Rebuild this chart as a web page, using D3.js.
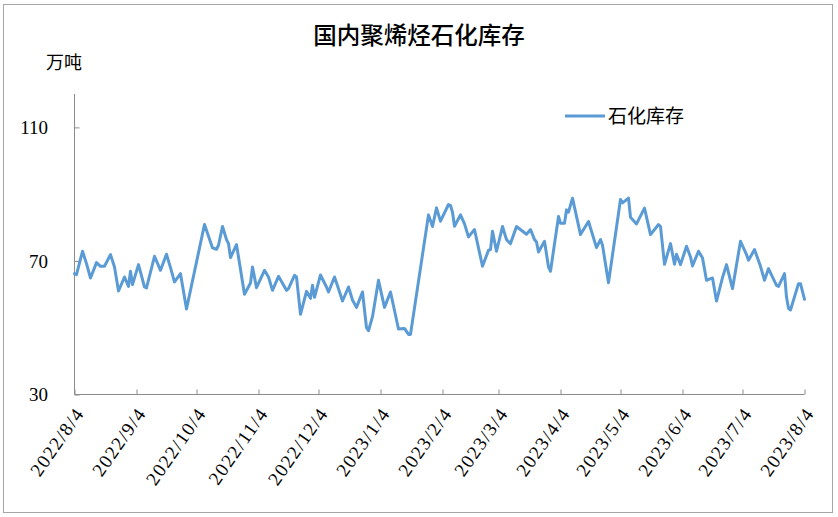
<!DOCTYPE html>
<html>
<head>
<meta charset="utf-8">
<script src="https://cdn.jsdelivr.net/npm/d3@7"></script>
<style>
  body { margin: 0; background: #fff; }
  svg { display: block; }
</style>
</head>
<body>
<svg width="838" height="517"></svg>
<script>
// readings of PE+PP inventory held by the two majors, every few days
var dates = [
  "2022-08-04","2022-08-05","2022-08-08","2022-08-10","2022-08-12","2022-08-15","2022-08-17","2022-08-19",
  "2022-08-22","2022-08-24","2022-08-26","2022-08-29","2022-08-31","2022-09-01","2022-09-02","2022-09-05",
  "2022-09-08","2022-09-09","2022-09-13","2022-09-16","2022-09-19","2022-09-21","2022-09-23","2022-09-26",
  "2022-09-29","2022-10-08","2022-10-11","2022-10-12","2022-10-14","2022-10-15","2022-10-17","2022-10-19",
  "2022-10-20","2022-10-21","2022-10-24","2022-10-28","2022-10-31","2022-11-01","2022-11-03","2022-11-07",
  "2022-11-09","2022-11-11","2022-11-14","2022-11-18","2022-11-19","2022-11-22","2022-11-23","2022-11-25",
  "2022-11-28","2022-11-30","2022-12-01","2022-12-02","2022-12-05","2022-12-08","2022-12-09","2022-12-12",
  "2022-12-14","2022-12-16","2022-12-19","2022-12-21","2022-12-23","2022-12-26","2022-12-28","2022-12-29",
  "2022-12-31","2023-01-03","2023-01-06","2023-01-09","2023-01-13","2023-01-16","2023-01-18","2023-01-19",
  "2023-01-28","2023-01-30","2023-02-01","2023-02-03","2023-02-07","2023-02-08","2023-02-09","2023-02-10",
  "2023-02-13","2023-02-15","2023-02-17","2023-02-20","2023-02-24","2023-02-27","2023-02-28","2023-03-01",
  "2023-03-03","2023-03-06","2023-03-08","2023-03-10","2023-03-13","2023-03-18","2023-03-20","2023-03-22",
  "2023-03-23","2023-03-24","2023-03-27","2023-03-29","2023-03-30","2023-04-03","2023-04-04","2023-04-06",
  "2023-04-07","2023-04-08","2023-04-10","2023-04-14","2023-04-18","2023-04-22","2023-04-24","2023-04-25",
  "2023-04-28","2023-05-04","2023-05-05","2023-05-08","2023-05-09","2023-05-12","2023-05-16","2023-05-19",
  "2023-05-23","2023-05-24","2023-05-26","2023-05-29","2023-05-31","2023-06-01","2023-06-03","2023-06-06",
  "2023-06-08","2023-06-09","2023-06-12","2023-06-14","2023-06-16","2023-06-19","2023-06-21","2023-06-24",
  "2023-06-26","2023-06-29","2023-07-03","2023-07-06","2023-07-07","2023-07-10","2023-07-13","2023-07-15",
  "2023-07-17","2023-07-21","2023-07-22","2023-07-25","2023-07-26","2023-07-27","2023-07-28","2023-08-01",
  "2023-08-02","2023-08-04"
];

var stock = [
  66.2, 65.9, 72.9, 69.2, 64.9, 69.5, 68.4, 68.4,
  71.9, 68.2, 61.0, 65.2, 62.4, 66.9, 62.9, 68.9,
  62.2, 61.9, 71.4, 67.2, 72.0, 68.0, 63.7, 66.2,
  55.6, 80.9, 75.7, 73.9, 73.5, 74.7, 80.3, 76.4,
  75.2, 71.0, 74.9, 60.0, 63.4, 68.2, 62.0, 67.2,
  65.2, 61.2, 65.4, 61.2, 61.7, 65.7, 65.2, 54.0,
  60.9, 58.8, 62.7, 59.1, 65.8, 62.2, 60.7, 65.2,
  61.7, 58.0, 62.2, 58.3, 56.1, 60.7, 50.0, 49.1,
  53.3, 64.2, 56.1, 60.7, 49.6, 49.8, 48.0, 48.0,
  83.8, 80.3, 85.9, 81.9, 86.9, 86.6, 84.6, 80.4,
  83.8, 81.1, 77.2, 79.4, 68.4, 73.2, 73.4, 78.9,
  72.9, 80.3, 76.4, 75.2, 80.3, 78.0, 79.4, 76.4,
  75.7, 72.7, 75.9, 68.2, 66.9, 83.3, 81.3, 81.3,
  85.3, 84.6, 88.8, 77.9, 81.8, 74.0, 76.4, 74.7,
  63.5, 88.4, 87.4, 88.8, 83.1, 81.1, 85.8, 77.9,
  80.9, 80.3, 69.0, 75.2, 69.0, 72.0, 68.9, 74.4,
  71.2, 68.5, 72.9, 70.9, 64.2, 64.9, 58.0, 65.0,
  68.9, 61.7, 75.9, 71.9, 70.2, 73.4, 68.4, 64.2,
  67.7, 62.7, 62.4, 66.2, 59.2, 55.8, 55.3, 63.2,
  63.2, 58.5
];

var tickLabels = ["2022/8/4","2022/9/4","2022/10/4","2022/11/4","2022/12/4","2023/1/4","2023/2/4",
  "2023/3/4","2023/4/4","2023/5/4","2023/6/4","2023/7/4","2023/8/4"];
var yTicks = [30, 70, 110];
var yDomain = [30, 120];

var svg = d3.select("svg"),
    width = +svg.attr("width"),
    height = +svg.attr("height");

var parseISO = d3.timeParse("%Y-%m-%d"),
    parseTick = d3.timeParse("%Y/%m/%d");

var data = dates.map(function(d, i) { return {date: parseISO(d), value: stock[i]}; });
var tickDates = tickLabels.map(function(t) { return parseTick(t); });

// plot box ("top" is taken by window.top, so prefix these)
var plotL = 74.5, plotR = 804.5, plotT = 94, plotB = 394.5;

var x = d3.scaleTime()
    .domain([tickDates[0], tickDates[tickDates.length - 1]])
    .range([plotL, plotR]);

var y = d3.scaleLinear()
    .domain(yDomain)
    .range([plotB, plotT]);

// outer frame
svg.append("rect")
    .attr("x", 3.5).attr("y", 4.5)
    .attr("width", 829).attr("height", 508)
    .attr("fill", "#fff")
    .attr("stroke", "#a6a6a6")
    .attr("stroke-width", 1);

svg.append("text")
    .attr("x", 419)
    .attr("y", 44)
    .attr("text-anchor", "middle")
    .attr("font-family", "Noto Sans CJK SC")
    .attr("font-size", 23.5)
    .attr("font-weight", 500)
    .attr("fill", "#000")
    .text("国内聚烯烃石化库存");

svg.append("text")
    .attr("x", 46)
    .attr("y", 69)
    .attr("font-family", "Noto Sans CJK SC")
    .attr("font-size", 18)
    .attr("fill", "#000")
    .text("万吨");

// y axis, ticks point into the plot
var yAxis = svg.append("g")
    .attr("transform", "translate(" + plotL + ",0)")
    .call(d3.axisRight(y).tickValues(yTicks).tickSize(5).tickFormat(""));
yAxis.select(".domain").attr("d", "M0," + plotT + "V" + plotB);
yAxis.selectAll("line, path").attr("stroke", "#8c8c8c");

svg.selectAll(".ylab")
  .data(yTicks)
  .enter().append("text")
    .attr("class", "ylab")
    .attr("x", 48)
    .attr("y", function(d) { return y(d); })
    .attr("dy", "0.35em")
    .attr("text-anchor", "end")
    .attr("font-family", "Liberation Serif")
    .attr("font-size", 19)
    .attr("fill", "#000")
    .text(function(d) { return d; });

// x axis, ticks point up into the plot
var xAxis = svg.append("g")
    .attr("transform", "translate(0," + plotB + ")")
    .call(d3.axisTop(x).tickValues(tickDates).tickSize(5).tickFormat(""));
xAxis.select(".domain").attr("d", "M" + plotL + ",0H" + plotR);
xAxis.selectAll("line, path").attr("stroke", "#8c8c8c");

svg.selectAll(".xlab")
  .data(tickDates)
  .enter().append("text")
    .attr("class", "xlab")
    .attr("transform", function(d) { return "translate(" + (x(d) + 5) + "," + (plotB + 15) + ") rotate(-55)"; })
    .attr("dy", "0.35em")
    .attr("text-anchor", "end")
    .attr("font-family", "Liberation Serif")
    .attr("font-size", 19)
    .attr("letter-spacing", 1.4)
    .attr("fill", "#000")
    .text(function(d, i) { return tickLabels[i]; });

var line = d3.line()
    .x(function(d) { return x(d.date); })
    .y(function(d) { return y(d.value); });

svg.append("path")
    .datum(data)
    .attr("fill", "none")
    .attr("stroke", "#5b9bd5")
    .attr("stroke-width", 3)
    .attr("stroke-linejoin", "round")
    .attr("stroke-linecap", "round")
    .attr("d", line);

// legend
svg.append("line")
    .attr("x1", 565).attr("x2", 605)
    .attr("y1", 116).attr("y2", 116)
    .attr("stroke", "#5b9bd5")
    .attr("stroke-width", 3);

svg.append("text")
    .attr("x", 608)
    .attr("y", 123)
    .attr("font-family", "Noto Sans CJK SC")
    .attr("font-size", 19)
    .attr("fill", "#000")
    .text("石化库存");
</script>
</body>
</html>
